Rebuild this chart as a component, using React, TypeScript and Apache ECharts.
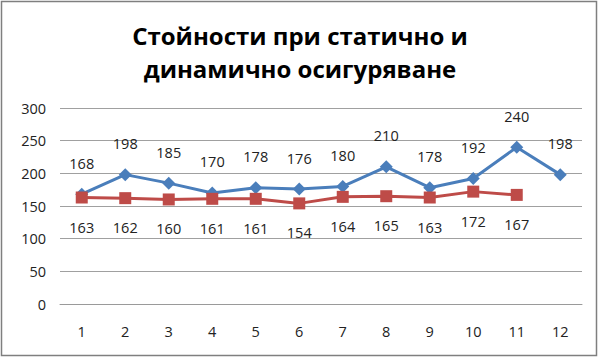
import React, { useEffect, useRef } from "react";
import * as echarts from "echarts";

const categories = ["1", "2", "3", "4", "5", "6", "7", "8", "9", "10", "11", "12"];
const dynamicValues = [168, 198, 185, 170, 178, 176, 180, 210, 178, 192, 240, 198];
const staticValues: (number | null)[] = [163, 162, 160, 161, 161, 154, 164, 165, 163, 172, 167, null];
const titleLines = ["Стойности при статично и", "динамично осигуряване"];

export default function App() {
  const ref = useRef<HTMLDivElement>(null);
  useEffect(() => {
    if (!ref.current) return;
    const chart = echarts.init(ref.current, undefined, { renderer: "svg" });
    const labelFont = { fontFamily: "Open Sans", fontSize: 14.5, color: "#222" };
    chart.setOption({
      animation: false,
      backgroundColor: "#fff",
      title: {
        text: titleLines.join("\n"),
        left: "center",
        top: 14,
        textStyle: {
          fontFamily: "Open Sans",
          fontWeight: "bold",
          fontSize: 24,
          lineHeight: 33,
          color: "#000",
        },
      },
      graphic: [
        {
          type: "rect",
          shape: { x: 1.5, y: 1.5, width: 595, height: 354 },
          style: { fill: "none", stroke: "#7f7f7f", lineWidth: 1.5 },
          silent: true,
        },
      ],
      grid: { left: 60, right: 18, top: 108, bottom: 55 },
      xAxis: {
        type: "category",
        data: categories,
        boundaryGap: true,
        axisLine: { lineStyle: { color: "#9a9a9a" } },
        axisTick: { show: false },
        axisLabel: { ...labelFont, margin: 20 },
      },
      yAxis: {
        type: "value",
        min: 0,
        max: 300,
        interval: 50,
        axisLine: { show: false },
        axisTick: { show: false },
        splitLine: { lineStyle: { color: "#a0a0a0", width: 1 } },
        axisLabel: { ...labelFont, margin: 14 },
      },
      series: [
        {
          type: "line",
          name: "динамично",
          data: dynamicValues,
          symbol: "diamond",
          symbolSize: 13,
          lineStyle: { color: "#4a7ebb", width: 3 },
          itemStyle: { color: "#4a7ebb" },
          label: { show: true, position: "top", distance: 17, ...labelFont },
        },
        {
          type: "line",
          name: "статично",
          data: staticValues,
          symbol: "rect",
          symbolSize: 12,
          lineStyle: { color: "#be4b48", width: 3 },
          itemStyle: { color: "#be4b48" },
          label: { show: true, position: "bottom", distance: 16, ...labelFont },
        },
      ],
    });
    return () => chart.dispose();
  }, []);
  return (
    <div
      ref={ref}
      style={{ position: "fixed", left: 0, top: 0, width: 600, height: 359 }}
    />
  );
}
